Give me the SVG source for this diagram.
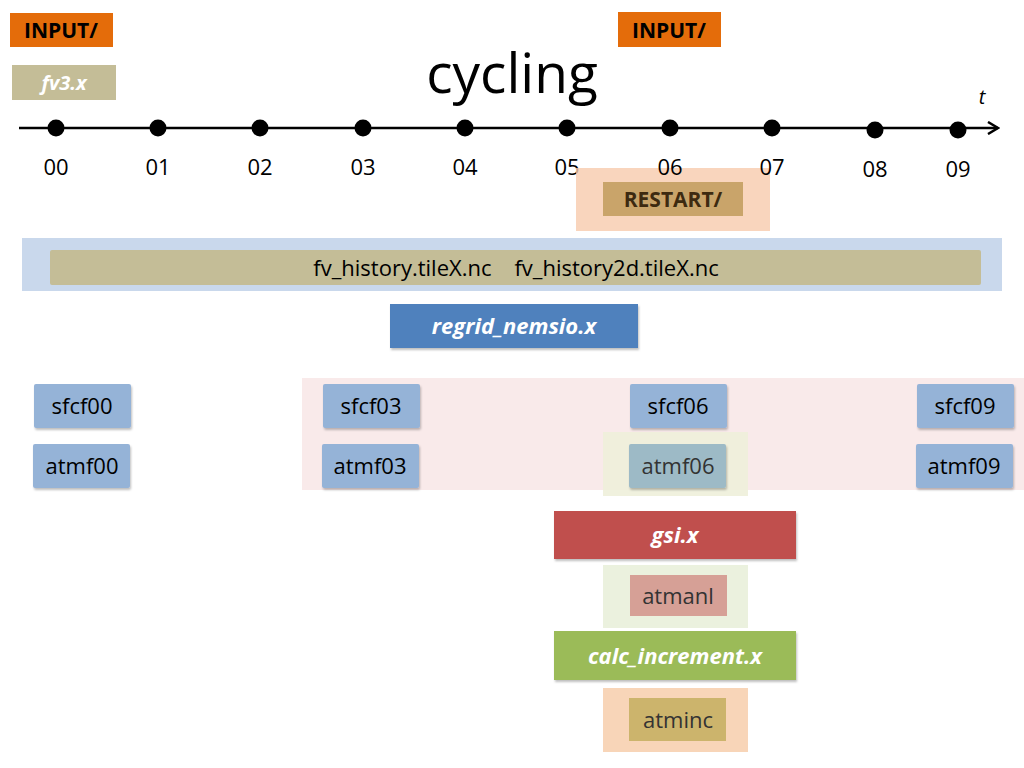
<svg xmlns="http://www.w3.org/2000/svg" width="1024" height="768" viewBox="0 0 1024 768">
<defs>
<filter id="sh" x="-10%" y="-10%" width="130%" height="140%"><feDropShadow dx="1" dy="2" stdDeviation="1.2" flood-color="#000" flood-opacity="0.25"/></filter>
<marker id="arr" markerWidth="14" markerHeight="14" refX="12" refY="7" orient="auto" markerUnits="userSpaceOnUse"><path d="M2,1 L12,7 L2,13" fill="none" stroke="#000" stroke-width="2.5"/></marker>
</defs>
<style>
text{font-family:"Open Sans","Liberation Sans",sans-serif;}
.lbl{font-size:22px;fill:#000;text-anchor:middle;}
.bold{font-weight:bold;}
.it{font-style:italic;font-weight:bold;fill:#fff;font-size:22px;text-anchor:middle;}
.fbox{fill:#95B3D7;filter:url(#sh);}
.dot{fill:#000;}
</style>
<rect width="1024" height="768" fill="#fff"/>

<g id="input1"><rect x="10" y="13" width="103" height="34" fill="#E46C0A"/><text x="61" y="38" class="lbl bold" style="font-size:21px">INPUT/</text></g>
<g id="input2"><rect x="618" y="12" width="103" height="35" fill="#E46C0A"/><text x="669" y="38" class="lbl bold" style="font-size:21px">INPUT/</text></g>
<g id="fv3"><rect x="12" y="65" width="104" height="35" fill="#C4BD97"/><text x="64" y="90" class="it" style="font-size:20px">fv3.x</text></g>
<text x="512" y="93" class="lbl" style="font-size:55px">cycling</text>
<text x="982" y="104" class="lbl" style="font-style:italic;font-size:20px">t</text>

<g id="timeline">
<line x1="19" y1="128" x2="998" y2="128" stroke="#000" stroke-width="2.5" marker-end="url(#arr)"/>
<circle cx="56" cy="128" r="8.5" class="dot"/><circle cx="158" cy="128" r="8.5" class="dot"/><circle cx="260" cy="128" r="8.5" class="dot"/><circle cx="363" cy="128" r="8.5" class="dot"/><circle cx="465" cy="128" r="8.5" class="dot"/><circle cx="567" cy="128" r="8.5" class="dot"/><circle cx="670" cy="128" r="8.5" class="dot"/><circle cx="772" cy="128" r="8.5" class="dot"/><circle cx="875" cy="130" r="8.5" class="dot"/><circle cx="958" cy="130" r="8.5" class="dot"/>
<text x="56" y="175" class="lbl">00</text><text x="158" y="175" class="lbl">01</text><text x="260" y="175" class="lbl">02</text><text x="363" y="175" class="lbl">03</text><text x="465" y="175" class="lbl">04</text><text x="567" y="175" class="lbl">05</text>
</g>

<g id="restart"><rect x="576" y="168" width="194" height="63" fill="#F8CBAD" opacity="0.8"/><rect x="603" y="182" width="140" height="34" fill="#C9A46A"/><text x="673" y="207" class="lbl bold" style="fill:#3d2a10;font-size:21px">RESTART/</text></g>
<text x="670" y="175" class="lbl">06</text><text x="772" y="175" class="lbl">07</text><text x="875" y="177" class="lbl">08</text><text x="958" y="177" class="lbl">09</text>

<g id="history"><rect x="22" y="238" width="980" height="53" fill="#C9D8EC"/><rect x="50" y="250" width="931" height="35" rx="2" fill="#C4BD97"/><text x="516" y="276" class="lbl" style="font-size:22px" xml:space="preserve">fv_history.tileX.nc    fv_history2d.tileX.nc</text></g>

<g id="regrid"><rect x="390" y="304" width="248" height="44" fill="#4F81BD" filter="url(#sh)"/><text x="514" y="334" class="it">regrid_nemsio.x</text></g>

<rect x="302" y="378" width="722" height="112" fill="#F9EAEA"/>

<g id="sfcf00"><rect x="34" y="384" width="97" height="44" rx="2" class="fbox"/><text x="82" y="414" class="lbl">sfcf00</text></g>
<g id="atmf00"><rect x="33" y="444" width="97" height="44" rx="2" class="fbox"/><text x="82" y="474" class="lbl">atmf00</text></g>
<g id="sfcf03"><rect x="323" y="384" width="97" height="44" rx="2" class="fbox"/><text x="371" y="414" class="lbl">sfcf03</text></g>
<g id="atmf03"><rect x="322" y="444" width="97" height="44" rx="2" class="fbox"/><text x="370" y="474" class="lbl">atmf03</text></g>
<g id="sfcf06"><rect x="630" y="384" width="97" height="44" rx="2" class="fbox"/><text x="678" y="414" class="lbl">sfcf06</text></g>
<g id="atmf06"><rect x="603" y="432" width="145" height="64" fill="#EEF0DA" opacity="0.9"/><rect x="629" y="444" width="97" height="44" rx="2" fill="#9DBAC6" filter="url(#sh)"/><text x="678" y="474" class="lbl" style="fill:#333">atmf06</text></g>
<g id="sfcf09"><rect x="917" y="384" width="97" height="44" rx="2" class="fbox"/><text x="965" y="414" class="lbl">sfcf09</text></g>
<g id="atmf09"><rect x="916" y="444" width="97" height="44" rx="2" class="fbox"/><text x="964" y="474" class="lbl">atmf09</text></g>

<g id="gsi"><rect x="554" y="511" width="242" height="48" fill="#C0504D" filter="url(#sh)"/><text x="675" y="543" class="it">gsi.x</text></g>
<g id="atmanl"><rect x="603" y="565" width="145" height="63" fill="#EBF1DE"/><rect x="630" y="575" width="97" height="41" fill="#D6A096"/><text x="678" y="604" class="lbl" style="fill:#333">atmanl</text></g>
<g id="calc"><rect x="554" y="631" width="242" height="49" fill="#9BBB59" filter="url(#sh)"/><text x="675" y="664" class="it">calc_increment.x</text></g>
<g id="atminc"><rect x="603" y="688" width="145" height="64" fill="#F8D5B8"/><rect x="629" y="698" width="97" height="43" fill="#CCB46C"/><text x="678" y="728" class="lbl" style="fill:#333">atminc</text></g>
<g id="connectors"></g>
</svg>
